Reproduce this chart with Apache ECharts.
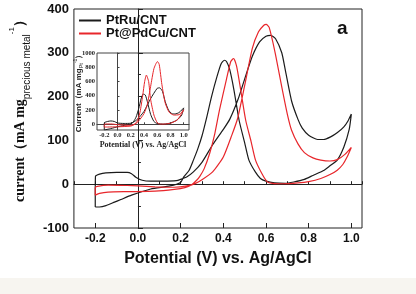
<!DOCTYPE html>
<html>
<head>
<meta charset="utf-8">
<script src="https://cdn.jsdelivr.net/npm/echarts@6/dist/echarts.min.js"></script>
<style>
  html, body { margin: 0; padding: 0; background: #fff; }
  #chart { width: 416px; height: 294px; }
</style>
</head>
<body>
<div id="chart"></div>
<script>
// ---- data: [potential V, current] ----
var ptRuMain = [
  [-0.2,-52],[-0.2,-20],[-0.199,18],[-0.18,23],[-0.15,26],[-0.1,27],[-0.05,27],[-0.03,24],[-0.01,16],[0.02,9],
  [0.06,7],[0.12,7],[0.18,8],[0.2,11],[0.23,17],[0.26,28],[0.3,50],[0.35,90],[0.4,125],[0.43,148],
  [0.47,195],[0.5,240],[0.536,292],[0.57,325],[0.6,338],[0.623,340],[0.645,332],[0.674,300],[0.69,262],[0.72,190],
  [0.75,148],[0.77,128],[0.8,112],[0.842,102],[0.87,102],[0.903,108],[0.935,118],[0.965,131],[0.985,145],[1.0,160],
  [0.99,125],[0.965,85],[0.934,55],[0.9,42],[0.873,32],[0.82,20],[0.78,11],[0.73,5],[0.69,2],[0.64,3],
  [0.6,7],[0.574,13],[0.55,28],[0.52,55],[0.5,95],[0.474,146],[0.45,215],[0.43,262],[0.415,280],[0.405,283],
  [0.39,275],[0.37,245],[0.345,200],[0.32,148],[0.3,110],[0.28,80],[0.26,55],[0.24,32],[0.214,16],[0.2,4],
  [0.15,-4],[0.06,-11],[-0.03,-25],[-0.08,-35],[-0.11,-41],[-0.15,-49],[-0.18,-52],[-0.2,-52]
];
var ptPdCuMain = [
  [-0.2,-25],[-0.2,-8],[-0.19,-5],[-0.14,-2],[-0.05,-3],[0.0,-4],[0.08,-6],[0.17,-7],[0.23,-4],[0.27,2],
  [0.3,10],[0.35,28],[0.4,62],[0.44,112],[0.467,150],[0.5,225],[0.536,310],[0.565,348],[0.59,363],[0.601,365],
  [0.615,358],[0.643,300],[0.674,222],[0.7,160],[0.72,123],[0.75,92],[0.78,72],[0.82,60],[0.857,55],[0.9,53],
  [0.934,56],[0.97,68],[1.0,84],
  [0.98,62],[0.96,45],[0.934,32],[0.9,22],[0.857,13],[0.8,6],[0.75,3],[0.68,1],[0.63,2],[0.605,6],
  [0.58,25],[0.551,55],[0.53,98],[0.505,146],[0.48,220],[0.462,270],[0.448,287],[0.435,280],[0.415,240],[0.382,169],
  [0.36,115],[0.336,70],[0.31,35],[0.29,18],[0.275,9],[0.25,-2],[0.22,-8],[0.17,-12],[0.08,-16],[-0.05,-17],
  [-0.14,-18],[-0.18,-21],[-0.2,-25]
];
// inset, mass activity per Pt
var ptRuInset = [
  [-0.2,-80],[-0.2,20],[-0.15,40],[-0.1,47],[-0.05,40],[0,18],[0.1,12],[0.2,15],[0.25,35],[0.3,70],
  [0.4,180],[0.5,360],[0.6,505],[0.638,511],[0.68,460],[0.72,320],[0.77,200],[0.82,150],[0.87,145],[0.93,165],[1.0,230],
  [0.97,130],[0.9,60],[0.8,18],[0.7,3],[0.6,10],[0.55,40],[0.5,140],[0.45,320],[0.42,410],[0.39,425],
  [0.36,370],[0.32,220],[0.28,100],[0.24,35],[0.2,5],[0.1,-15],[0,-35],[-0.1,-60],[-0.2,-80]
];
var ptPdCuInset = [
  [-0.2,-38],[-0.2,0],[-0.1,5],[0,-5],[0.2,-15],[0.25,0],[0.3,25],[0.4,150],[0.45,280],[0.5,530],
  [0.55,780],[0.603,880],[0.63,840],[0.67,560],[0.72,300],[0.78,170],[0.85,130],[0.93,135],[1.0,203],
  [0.97,150],[0.9,60],[0.8,15],[0.7,3],[0.63,5],[0.6,20],[0.55,130],[0.5,350],[0.47,600],[0.436,690],
  [0.41,600],[0.38,400],[0.34,170],[0.3,50],[0.26,0],[0.2,-25],[0,-35],[-0.15,-38],[-0.2,-38]
];
var seriesNames = ['PtRu/CNT', 'Pt@PdCu/CNT'];
var xMajor = [-0.2, 0.0, 0.2, 0.4, 0.6, 0.8, 1.0];
var insetY = [0, 200, 400, 600, 800, 1000];

var BLACK = '#1b1b1b', RED = '#e8262b';
var sans = '"Liberation Sans", Arial, sans-serif';
var serif = '"Liberation Serif", "Times New Roman", serif';

var chart = echarts.init(document.getElementById('chart'));

var option = {
  backgroundColor: '#fff',
  animation: false,
  color: [BLACK, RED],
  grid: [
    {left: 68, right: 54, top: 9, bottom: 66, show: true, borderColor: '#222', borderWidth: 1},
    {left: 97, top: 53, width: 92, height: 77, show: true, borderColor: '#444', borderWidth: 1, backgroundColor: '#fff'}
  ],
  legend: {
    data: seriesNames,
    orient: 'vertical',
    left: 74, top: 9,
    itemWidth: 22, itemHeight: 2, itemGap: 0,
    icon: 'rect',
    textStyle: {fontFamily: sans, fontWeight: 'bold', fontSize: 13, color: '#111'}
  },
  xAxis: [
    {
      type: 'value', gridIndex: 0, min: -0.3, max: 1.05, interval: 0.1,
      axisLine: {lineStyle: {color: '#222', width: 1}},
      axisTick: {inside: true, length: 3, lineStyle: {color: '#222'}},
      splitLine: {show: false},
      axisLabel: {customValues: xMajor, margin: 5, color: '#111', fontFamily: sans, fontWeight: 'bold', fontSize: 12,
        formatter: function (v) { return v.toFixed(1); }},
      name: 'Potential (V) vs. Ag/AgCl', nameLocation: 'middle', nameGap: 23,
      nameTextStyle: {fontFamily: sans, fontWeight: 'bold', fontSize: 16, color: '#111'}
    },
    {
      type: 'value', gridIndex: 0, min: -0.3, max: 1.05, position: 'bottom',
      axisLine: {show: false},
      axisTick: {inside: true, length: 5, customValues: xMajor, lineStyle: {color: '#222'}},
      axisLabel: {show: false}, splitLine: {show: false}
    },
    {
      type: 'value', gridIndex: 1, min: -0.31, max: 1.08,
      axisLine: {lineStyle: {color: '#444', width: 1}},
      axisTick: {inside: true, length: 2, customValues: xMajor, lineStyle: {color: '#444'}},
      splitLine: {show: false},
      axisLabel: {customValues: xMajor, margin: 2, color: '#222', fontFamily: serif, fontWeight: 'bold', fontSize: 6.5,
        formatter: function (v) { return v.toFixed(1); }},
      name: 'Potential (V) vs. Ag/AgCl', nameLocation: 'middle', nameGap: 11,
      nameTextStyle: {fontFamily: serif, fontWeight: 'bold', fontSize: 8, color: '#222'}
    }
  ],
  yAxis: [
    {
      type: 'value', gridIndex: 0, min: -100, max: 400, interval: 100,
      axisLine: {show: true, lineStyle: {color: '#222', width: 1}},
      axisTick: {show: true, inside: true, length: 5, lineStyle: {color: '#222'}},
      minorTick: {show: true, splitNumber: 2, length: 3, lineStyle: {color: '#222'}},
      splitLine: {show: false},
      axisLabel: {margin: 5, color: '#111', fontFamily: sans, fontWeight: 'bold', fontSize: 13},
      name: '{m|current（mA mg}{s|precious metal}{p|-1}{m|）}',
      nameLocation: 'middle', nameGap: 37, nameRotate: 90,
      nameTextStyle: {
        padding: [0, 0, 0, 22],
        rich: {
          m: {fontFamily: serif, fontWeight: 'bold', fontSize: 14, color: '#111', lineHeight: 24},
          s: {fontFamily: sans, fontSize: 10, color: '#111', verticalAlign: 'bottom', lineHeight: 12},
          p: {fontFamily: sans, fontSize: 8, color: '#111', verticalAlign: 'top', lineHeight: 12}
        }
      }
    },
    {
      type: 'value', gridIndex: 1, min: -80, max: 1000,
      axisLine: {show: true, lineStyle: {color: '#444', width: 1}},
      axisTick: {show: true, inside: true, length: 2, customValues: insetY, lineStyle: {color: '#444'}},
      splitLine: {show: false},
      axisLabel: {customValues: insetY, margin: 2, color: '#222', fontFamily: serif, fontWeight: 'bold', fontSize: 6.5,
        formatter: function (v) { return String(v); }},
      name: '{m|Current（mA mg}{s|Pt}{p|-1}{m|）}',
      nameLocation: 'middle', nameGap: 13, nameRotate: 90, nameMoveOverlap: false,
      nameTextStyle: {
        rich: {
          m: {fontFamily: sans, fontWeight: 'bold', fontSize: 8, color: '#222', lineHeight: 11},
          s: {fontFamily: sans, fontSize: 5.5, color: '#222', verticalAlign: 'bottom', lineHeight: 6},
          p: {fontFamily: sans, fontSize: 5, color: '#222', verticalAlign: 'top', lineHeight: 6}
        }
      }
    }
  ],
  series: [
    {name: seriesNames[0], type: 'line', xAxisIndex: 0, yAxisIndex: 0, data: ptRuMain,
      showSymbol: false, smooth: 0.2, lineStyle: {color: BLACK, width: 1.2}, itemStyle: {color: BLACK}},
    {name: seriesNames[1], type: 'line', xAxisIndex: 0, yAxisIndex: 0, data: ptPdCuMain,
      showSymbol: false, smooth: 0.2, lineStyle: {color: RED, width: 1.2}, itemStyle: {color: RED}},
    {name: 'inset ' + seriesNames[0], type: 'line', xAxisIndex: 2, yAxisIndex: 1, data: ptRuInset,
      showSymbol: false, smooth: 0.2, lineStyle: {color: BLACK, width: 1}, itemStyle: {color: BLACK}},
    {name: 'inset ' + seriesNames[1], type: 'line', xAxisIndex: 2, yAxisIndex: 1, data: ptPdCuInset,
      showSymbol: false, smooth: 0.2, lineStyle: {color: RED, width: 1}, itemStyle: {color: RED}}
  ],
  graphic: [
    {type: 'rect', left: 0, top: 278, shape: {width: 416, height: 16}, style: {fill: '#f7f5f0'}, z: -10},
    {type: 'text', left: 337, top: 19, style: {text: 'a', fontFamily: sans, fontWeight: 'bold', fontSize: 19, fill: '#111'}}
  ]
};
chart.setOption(option);
</script>
</body>
</html>
